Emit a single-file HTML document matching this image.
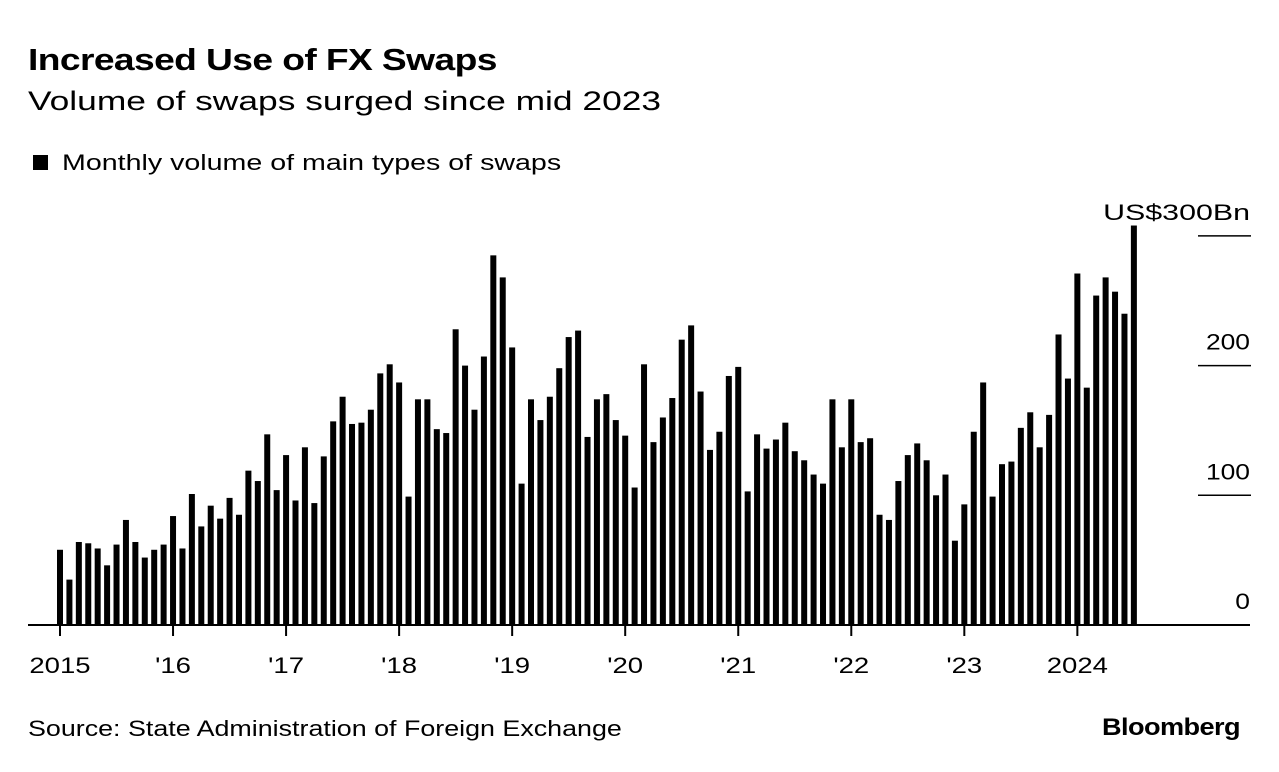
<!DOCTYPE html>
<html><head><meta charset="utf-8"><style>
body{margin:0;background:#fff;font-family:"Liberation Sans",sans-serif;}
#wrap{position:relative;width:1279px;height:772px;overflow:hidden;}
.t{position:absolute;white-space:nowrap;color:#000;transform-origin:0 0;}
</style></head><body><div id="wrap">
<div class="t" style="left:28px;top:42px;font-size:31px;font-weight:bold;letter-spacing:-0.5px;transform:scaleX(1.2)">Increased Use of FX Swaps</div>
<div class="t" style="left:28px;top:86px;font-size:27px;transform:scaleX(1.31)">Volume of swaps surged since mid 2023</div>
<div style="position:absolute;left:33px;top:155px;width:15px;height:15px;background:#000"></div>
<div class="t" style="left:62px;top:150px;font-size:22px;transform:scaleX(1.3)">Monthly volume of main types of swaps</div>
<svg id="c" width="1279" height="772" style="position:absolute;left:0;top:0"></svg>
<div class="t" style="left:28px;top:716px;font-size:22px;transform:scaleX(1.22)">Source: State Administration of Foreign Exchange</div>
<div class="t" style="left:1102px;top:714px;font-size:24px;font-weight:bold;letter-spacing:-0.5px;transform:scaleX(1.13)">Bloomberg</div>
</div>
<script>
const values=[58,35,64,63,59,46,62,81,64,52,58,62,
84,59,101,76,92,82,98,85,119,111,147,104,
131,96,137,94,130,157,176,155,156,166,194,201,
187,99,174,174,151,148,228,200,166,207,285,268,
214,109,174,158,176,198,222,227,145,174,178,158,
146,106,201,141,160,175,220,231,180,135,149,192,
199,103,147,136,143,156,134,127,116,109,174,137,
174,141,144,85,81,111,131,140,127,100,116,65,
93,149,187,99,124,126,152,164,137,162,224,190,
271,183,254,268,257,240,308];
const yTicks=[0,100,200,300];
const yTickLabels=["0","100","200","US$300Bn"];
const xTickLabels=["2015","'16","'17","'18","'19","'20","'21","'22","'23","2024"];
const NS="http://www.w3.org/2000/svg";
const svg=document.getElementById('c');
const y0=625,ky=1.297;
const y=v=>y0-v*ky;
const x=i=>60+i*9.42;
function mk(t,a){const e=document.createElementNS(NS,t);for(const k in a)e.setAttribute(k,a[k]);svg.appendChild(e);return e;}
values.forEach((v,i)=>{
 const r=mk('rect',{x:x(i)-3,y:y(v),width:6,height:v*ky,fill:'#000'});
 
 
});
const ax=mk('line',{x1:28,x2:1250,y1:y0,y2:y0,stroke:'#000','stroke-width':2});


yTicks.forEach((v,i)=>{
 if(v>0){const g=mk('line',{x1:1198,x2:1251,y1:y(v),y2:y(v),stroke:'#000','stroke-width':1.5});
 
 }
 const t=mk('text',{x:1250,y:y(v)-16,'text-anchor':'end','font-size':22,'font-family':'Liberation Sans, sans-serif',fill:'#000'});
 t.textContent=yTickLabels[i];
 
 
 const w=t.getComputedTextLength();
 t.setAttribute('textLength',w*(i===3?1.38:1.2));
 t.setAttribute('lengthAdjust','spacingAndGlyphs');
});
xTickLabels.forEach((l,k)=>{
 const xx=x(k*12);
 const tk=mk('line',{x1:xx,x2:xx,y1:y0,y2:y0+11,stroke:'#000','stroke-width':2});
 
 
 const t=mk('text',{x:xx,y:673,'text-anchor':'middle','font-size':22,'font-family':'Liberation Sans, sans-serif',fill:'#000'});
 t.textContent=l;
 
 
 const w=t.getComputedTextLength();
 t.setAttribute('textLength',w*1.25);
 t.setAttribute('lengthAdjust','spacingAndGlyphs');
});
</script></body></html>
